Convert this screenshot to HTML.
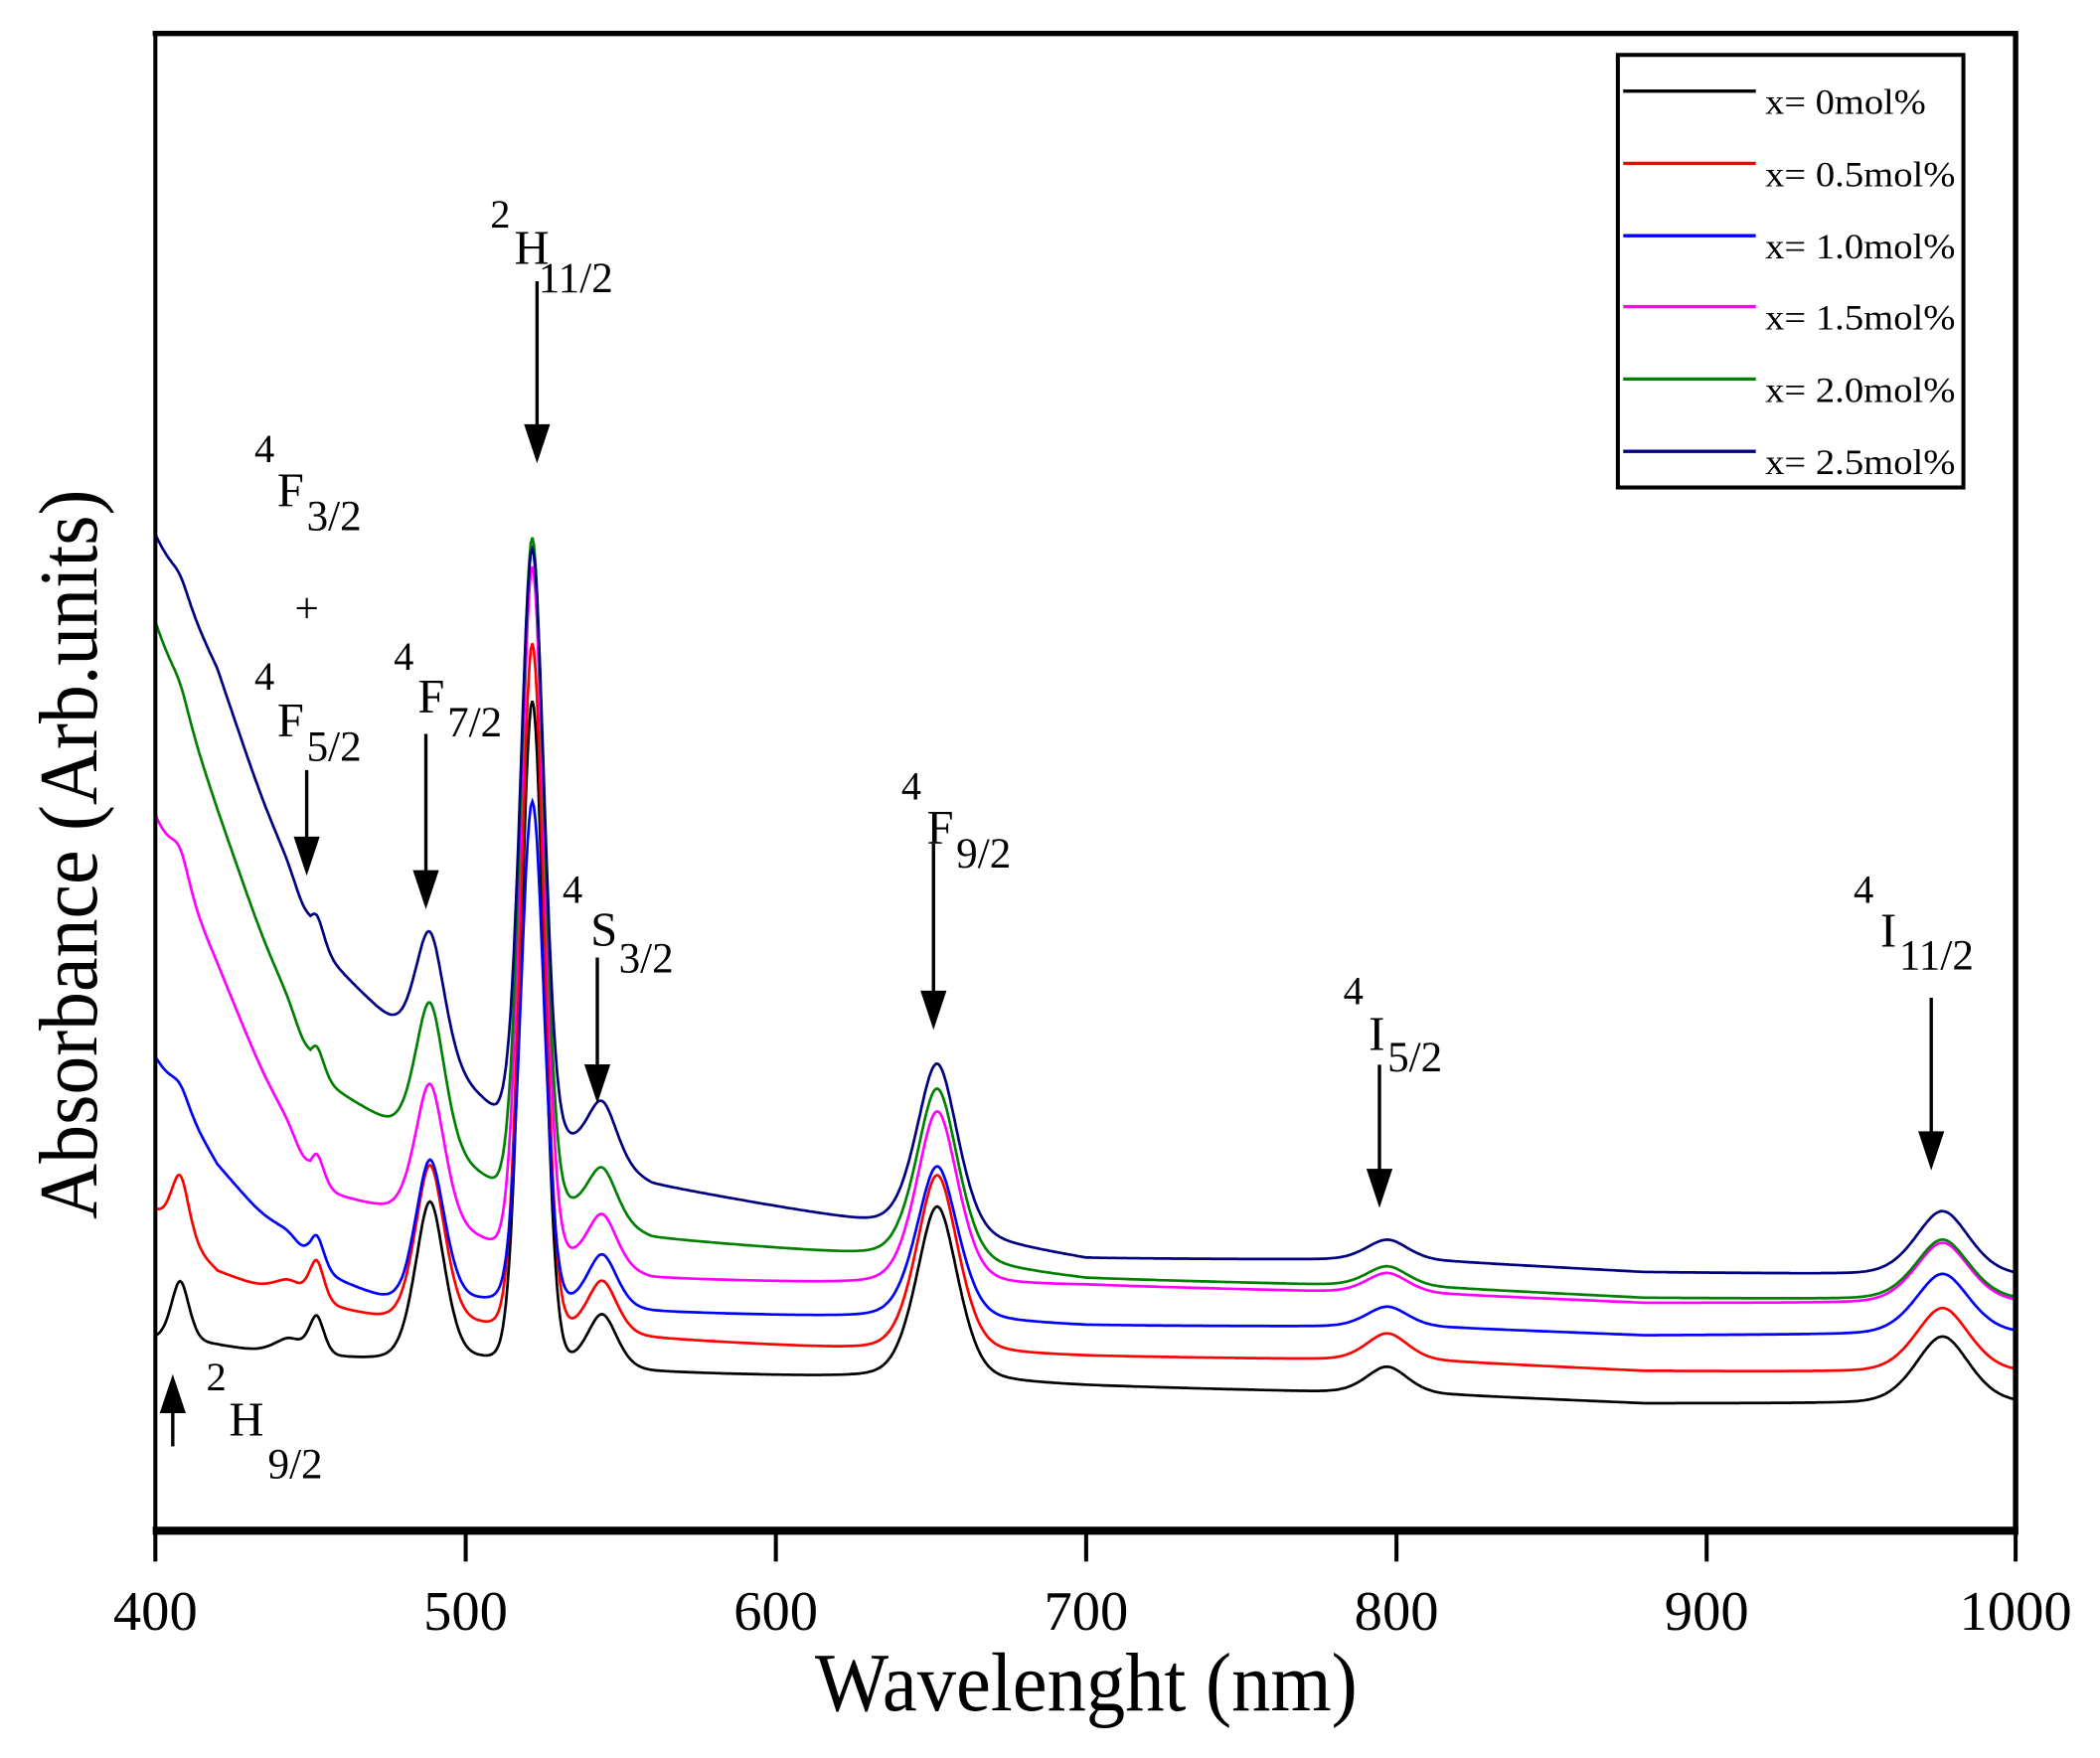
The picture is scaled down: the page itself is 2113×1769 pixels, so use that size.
<!DOCTYPE html>
<html><head><meta charset="utf-8"><style>
html,body{margin:0;padding:0;background:#fff;}
svg{display:block;}
text{font-family:"Liberation Serif",serif;fill:#000;}
</style></head><body>
<svg id="s" width="2113" height="1769" viewBox="0 0 1568 1312.7" preserveAspectRatio="none" xmlns="http://www.w3.org/2000/svg">
<rect x="0" y="0" width="1568" height="1313" fill="#fff"/>
<g id="curves"></g>
<line x1="116" y1="24" x2="116" y2="1143" stroke="#000" stroke-width="3"/>
<line x1="114" y1="25" x2="1506" y2="25" stroke="#000" stroke-width="4"/>
<line x1="1505" y1="23" x2="1505" y2="1146" stroke="#000" stroke-width="4"/>
<line x1="114" y1="1143" x2="1507" y2="1143" stroke="#000" stroke-width="6"/>
<g stroke="#000" stroke-width="3">
<line x1="116" y1="1143" x2="116" y2="1166"/><line x1="347.7" y1="1143" x2="347.7" y2="1166"/>
<line x1="579.3" y1="1143" x2="579.3" y2="1166"/><line x1="811" y1="1143" x2="811" y2="1166"/>
<line x1="1042.7" y1="1143" x2="1042.7" y2="1166"/><line x1="1274.3" y1="1143" x2="1274.3" y2="1166"/>
<line x1="1505" y1="1143" x2="1505" y2="1166"/>
</g>
<g font-size="42" text-anchor="middle">
<text x="116" y="1217">400</text><text x="347.7" y="1217">500</text><text x="579.3" y="1217">600</text>
<text x="811" y="1217">700</text><text x="1042.7" y="1217">800</text><text x="1274.3" y="1217">900</text>
<text x="1505" y="1217">1000</text>
</g>
<text x="811" y="1277" font-size="62" text-anchor="middle" textLength="405" lengthAdjust="spacingAndGlyphs">Wavelenght (nm)</text>
<text transform="translate(72,638) rotate(-90)" font-size="62" text-anchor="middle" textLength="545" lengthAdjust="spacingAndGlyphs">Absorbance (Arb.units)</text>
<rect x="1208" y="41" width="258" height="323" fill="#fff" stroke="#000" stroke-width="3"/>
<g stroke-width="2.5">
<line x1="1212" y1="68" x2="1311" y2="68" stroke="#000"/>
<line x1="1212" y1="122" x2="1311" y2="122" stroke="#f00"/>
<line x1="1212" y1="176" x2="1311" y2="176" stroke="#00f"/>
<line x1="1212" y1="229" x2="1311" y2="229" stroke="#f0f"/>
<line x1="1212" y1="283" x2="1311" y2="283" stroke="#008000"/>
<line x1="1212" y1="337" x2="1311" y2="337" stroke="#000080"/>
</g>
<g font-size="27">
<text x="1318" y="85" textLength="120" lengthAdjust="spacingAndGlyphs">x= 0mol%</text>
<text x="1318" y="139" textLength="142" lengthAdjust="spacingAndGlyphs">x= 0.5mol%</text>
<text x="1318" y="193" textLength="142" lengthAdjust="spacingAndGlyphs">x= 1.0mol%</text>
<text x="1318" y="246" textLength="142" lengthAdjust="spacingAndGlyphs">x= 1.5mol%</text>
<text x="1318" y="300" textLength="142" lengthAdjust="spacingAndGlyphs">x= 2.0mol%</text>
<text x="1318" y="354" textLength="142" lengthAdjust="spacingAndGlyphs">x= 2.5mol%</text>
</g>
<g font-size="36">
<text x="366" y="170" font-size="30">2</text><text x="384" y="197">H</text><text x="402" y="218" font-size="32">11/2</text>
<text x="190" y="345" font-size="30">4</text><text x="207" y="378">F</text><text x="229" y="396" font-size="32">3/2</text>
<text x="220" y="465" font-size="32">+</text>
<text x="190" y="515" font-size="30">4</text><text x="207" y="550">F</text><text x="229" y="568" font-size="32">5/2</text>
<text x="294" y="500" font-size="30">4</text><text x="312" y="532">F</text><text x="334" y="550" font-size="32">7/2</text>
<text x="420" y="674" font-size="30">4</text><text x="441" y="706">S</text><text x="462" y="726" font-size="32">3/2</text>
<text x="673" y="597" font-size="30">4</text><text x="692" y="630">F</text><text x="714" y="648" font-size="32">9/2</text>
<text x="1003" y="750" font-size="30">4</text><text x="1022" y="784">I</text><text x="1036" y="800" font-size="32">5/2</text>
<text x="1384" y="674" font-size="30">4</text><text x="1404" y="707">I</text><text x="1418" y="724" font-size="32">11/2</text>
<text x="154" y="1038" font-size="30">2</text><text x="171" y="1072">H</text><text x="200" y="1104" font-size="32">9/2</text>
</g>
<g stroke="#000" stroke-width="2.5" fill="#000">
<line x1="401" y1="210" x2="401" y2="325"/><polygon points="393,318 409,318 401,342"/>
<line x1="229" y1="575" x2="229" y2="633"/><polygon points="221,626 237,626 229,650"/>
<line x1="318" y1="548" x2="318" y2="658"/><polygon points="310,651 326,651 318,675"/>
<line x1="446" y1="715" x2="446" y2="803"/><polygon points="438,796 454,796 446,820"/>
<line x1="697" y1="630" x2="697" y2="748"/><polygon points="689,741 705,741 697,765"/>
<line x1="1030" y1="795" x2="1030" y2="881"/><polygon points="1022,874 1038,874 1030,898"/>
<line x1="1442" y1="745" x2="1442" y2="853"/><polygon points="1434,846 1450,846 1442,870"/>
<line x1="129" y1="1080" x2="129" y2="1047"/><polygon points="121,1054 137,1054 129,1030"/>
</g>
</svg>
<script>
(function(){
var base=[[400,1000],[420,1005],[440,1012],[480,1018],[505,1018],[560,1025],[640,1030],[700,1035],[785,1040],[820,1042],[880,1048],[1000,1048]];
var offX=[400,420,450,480,510,560,640,700,800,1000];
var offs=[
[0,0,0,0,0,0,0,0,0,0],
[-95,-55,-40,-28,-25,-25,-20,-22,-25,-23],
[-210,-135,-65,-40,-45,-45,-45,-45,-50,-52],
[-390,-285,-125,-110,-85,-70,-70,-75,-75,-75],
[-535,-400,-210,-170,-130,-100,-90,-80,-80,-77],
[-600,-505,-310,-243,-185,-140,-112,-95,-100,-95]];
var peaks=[
[408,3,0.3,[45,45,12,20,10,10]],
[443,5,0.3,[12,12,10,10,10,10]],
[452,2.5,0.3,[28,30,25,25,22,22]],
[488.5,5,0.35,[120,120,110,105,110,95]],
[521.5,3.8,0.08,[495,513,375,514,494,434]],
[544,5,0.3,[40,40,40,40,40,45]],
[652,7,0.35,[130,133,115,130,130,128]],
[797,7,0.3,[20,20,15,15,15,15]],
[976,9,0.3,[50,48,45,45,45,48]]];
var cols=["#000","#f00","#00f","#f0f","#008000","#000080"];
function interp(xs,ys,x){for(var i=0;i<xs.length-1;i++){if(x<=xs[i+1]){var t=(x-xs[i])/(xs[i+1]-xs[i]);return ys[i]+t*(ys[i+1]-ys[i]);}}return ys[ys.length-1];}
var bx=base.map(function(p){return p[0]}),by=base.map(function(p){return p[1]});
var g=document.getElementById("curves"),html="";
for(var c=0;c<6;c++){
 var d="";
 for(var l=400;l<=1000.01;l+=0.5){
  var y=interp(bx,by,l)+interp(offX,offs[c],l);
  for(var k=0;k<peaks.length;k++){var p=peaks[k],u=(l-p[0])/p[1];
   var prof=(1-p[2])*Math.exp(-u*u/2)+p[2]/(1+u*u);
   y-=p[3][c]*prof;}
  var x=116+(l-400)*2.3167;
  d+=(d?"L":"M")+x.toFixed(1)+" "+y.toFixed(1);
 }
 html+='<path d="'+d+'" fill="none" stroke="'+cols[c]+'" stroke-width="2"/>';
}
g.innerHTML=html;
})();
</script>
</body></html>
